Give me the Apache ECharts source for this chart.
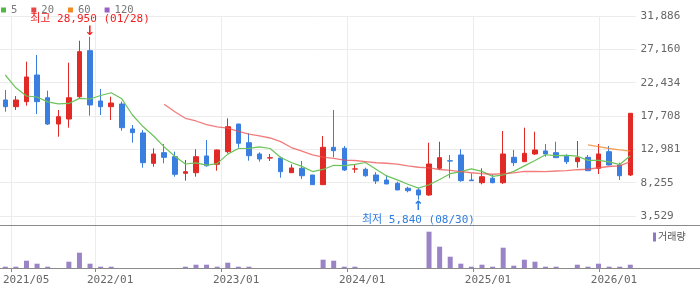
<!DOCTYPE html>
<html><head><meta charset="utf-8">
<script src="https://cdn.jsdelivr.net/npm/echarts@6/dist/echarts.min.js"></script>
<style>html,body{margin:0;padding:0;background:#fff}#c{width:700px;height:289px}</style>
</head><body><div id="c"></div>
<script>
const categories = ['2021/05','2021/06','2021/07','2021/08','2021/09','2021/10','2021/11','2021/12',
'2022/01','2022/02','2022/03','2022/04','2022/05','2022/06','2022/07','2022/08','2022/09','2022/10','2022/11','2022/12',
'2023/01','2023/02','2023/03','2023/04','2023/05','2023/06','2023/07','2023/08','2023/09','2023/10','2023/11','2023/12',
'2024/01','2024/02','2024/03','2024/04','2024/05','2024/06','2024/07','2024/08','2024/09','2024/10','2024/11','2024/12',
'2025/01','2025/02','2025/03','2025/04','2025/05','2025/06','2025/07','2025/08','2025/09','2025/10','2025/11','2025/12',
'2026/01','2026/02','2026/03','2026/04'];
const opens  = [19980,19030,19740,23520,20300,16570,17280,20440,26970,19840,19030,19410,15870,15300,11000,12510,11940,9580,9670,12040,
10860,12650,16570,13920,12320,11750,11750,9670,10290,9340,7970,13270,13130,10180,10150,9340,8630,8170,7460,7220,
6510,10290,11360,12180,8630,8250,8880,8250,11850,11230,12320,12750,12510,12040,11230,11850,10290,12650,10760,9340];
const closes = [19030,19980,23240,19740,16570,17610,20300,26830,19270,19030,19550,16050,15340,11090,12320,11850,9440,9810,11940,10660,
12890,16190,13840,12080,11610,11780,9810,10340,9240,7970,13270,12790,10050,10210,9240,8490,8070,7220,7120,6510,
10900,11800,11320,8540,8540,9100,8250,12320,11090,12420,12890,12320,11800,11230,11800,9950,12320,10760,9240,18090];
const lows   = [18320,18560,19170,17990,16430,14770,16050,20220,17750,17850,17140,15620,13920,10380,10520,11000,9100,8540,9100,10520,
9950,12420,13210,11370,11230,11330,8960,9670,8780,7970,7970,11850,9910,9670,9100,8070,8070,7220,6890,5840,
6370,10050,8880,8390,8490,8020,8170,8070,10620,11230,12180,11940,11800,10900,10380,9950,9480,10700,8630,9200];
const highs  = [21390,20540,25410,26360,21300,18560,25270,28380,28950,21540,20440,19740,16430,15720,13130,13740,12650,11470,12990,14310,
12950,17380,16600,15260,12560,12320,11940,10860,11330,9340,14870,18560,13460,10760,10380,9730,9340,8390,7680,7540,
13920,14060,12180,12990,9580,10290,9340,15580,12890,16050,15480,13740,14060,12280,14160,12180,13740,13460,11090,18090];
const ma5  = [23520,21700,20540,20400,19710,19430,19490,20210,20120,20610,21000,20140,17850,16210,14870,13330,12010,10900,11070,10740,
10950,12300,13100,13130,13320,13100,11820,11120,10560,9830,10130,10720,10660,10860,11110,10160,9210,8650,8030,7480,
7960,8710,9530,9810,10220,9860,9150,9350,9860,10640,11390,12210,12100,12130,12010,11420,11420,11210,10820,12070];
const ma20 = ['-','-','-','-','-','-','-','-','-','-','-','-','-','-','-',19370,18320,17380,17000,16480,
16180,15990,15520,15130,14880,14590,14070,13240,12740,12190,11880,11710,11450,11400,11250,11080,11010,10880,10640,10440,
10340,10120,9990,9810,9660,9530,9450,9550,9640,9860,9840,9820,9910,9960,10090,10160,10370,10550,10650,11230];
const ma60 = ['-','-','-','-','-','-','-','-','-','-','-','-','-','-','-','-','-','-','-','-',
'-','-','-','-','-','-','-','-','-','-','-','-','-','-','-','-','-','-','-','-',
'-','-','-','-','-','-','-','-','-','-','-','-','-','-','-',13600,13380,13100,12890,12720];
const ma120 = [];
const volumes = [130,130,730,430,130,0,630,1530,430,130,130,0,0,0,0,0,0,130,330,330,
130,530,130,130,0,0,0,0,0,0,830,730,130,130,0,0,0,0,0,0,
3630,2130,1130,430,130,330,130,2030,230,830,630,130,130,0,330,130,430,130,130,330];
const priceTicks = [3529,8255.17,12981.33,17707.5,22433.67,27159.83,31886];
const maNames = ['5','20','60','120'];
const highNote = '최고 28,950 (01/28)';
const lowNote = '최저 5,840 (08/30)';

const FONT = "'DejaVu Sans Mono','Noto Sans CJK KR',monospace";
const UP = '#e12a26', DOWN = '#3a7ee0';
const yearPick = (i, v) => i === 0 || String(v).endsWith('/01');
const kdata = categories.map((c, i) => [opens[i], closes[i], lows[i], highs[i]]);

const chart = echarts.init(document.getElementById('c'), null, {renderer: 'canvas'});
chart.setOption({
  animation: false,
  backgroundColor: '#fff',
  textStyle: {fontFamily: FONT},
  legend: [{
    data: [
      {name: '5', itemStyle: {color: '#52b845'}},
      {name: '20', itemStyle: {color: '#e84646'}},
      {name: '60', itemStyle: {color: '#f08a24'}},
      {name: '120', itemStyle: {color: '#9a60c8'}}],
    left: 1, top: 4, padding: 0, icon: 'rect', itemWidth: 5, itemHeight: 5, itemGap: 14,
    selectedMode: false, textStyle: {color: '#777', fontSize: 10.5, fontFamily: FONT, lineHeight: 12}
  }, {
    data: [{name: '거래량', itemStyle: {color: '#8e79c0'}}],
    left: 653, top: 232, padding: 0, icon: 'rect', itemWidth: 3, itemHeight: 9,
    selectedMode: false, textStyle: {color: '#555', fontSize: 10, fontFamily: FONT, padding: [0,0,0,-3]}
  }],
  grid: [
    {left: 0, top: 16, width: 635.6, height: 200},
    {left: 0, top: 226, width: 635.6, height: 42},
    {left: 5.3, top: 16, width: 625, height: 252}
  ],
  xAxis: [
    {type: 'category', gridIndex: 0, data: categories, boundaryGap: true, show: false},
    {type: 'category', gridIndex: 1, data: categories, boundaryGap: true, show: false},
    {type: 'category', gridIndex: 2, data: categories, boundaryGap: false,
      axisLine: {show: false},
      axisTick: {show: true, interval: yearPick, length: 4, lineStyle: {color: '#888'}},
      axisLabel: {show: true, interval: yearPick, align: 'left', padding: [0,0,0,-8], margin: 7,
        color: '#666', fontSize: 11, fontFamily: FONT},
      splitLine: {show: true, interval: yearPick, lineStyle: {color: '#ececec', width: 1}}
    }
  ],
  yAxis: [
    {type: 'value', gridIndex: 0, position: 'right', min: 3529, max: 31886,
      axisLine: {show: false}, axisTick: {show: false, customValues: priceTicks},
      axisLabel: {customValues: priceTicks, margin: 5, color: '#666', fontSize: 11, fontFamily: FONT,
        formatter: v => Math.round(v).toLocaleString('en-US')},
      splitLine: {show: true, lineStyle: {color: '#ececec'}}
    },
    {type: 'value', gridIndex: 1, min: 0, max: 4200, show: false, splitLine: {show: false}},
    {type: 'value', gridIndex: 2, show: false, splitLine: {show: false}}
  ],
  graphic: [
    {type: 'line', shape: {x1: 0, y1: 225.5, x2: 700, y2: 225.5}, style: {stroke: '#8a8a8a', lineWidth: 1}, z: 50},
    {type: 'line', shape: {x1: 0, y1: 268.5, x2: 700, y2: 268.5}, style: {stroke: '#8a8a8a', lineWidth: 1}, z: 50}
  ],
  series: [
    {type: 'candlestick', name: 'K', xAxisIndex: 0, yAxisIndex: 0, data: kdata, barWidth: 5,
      itemStyle: {color: UP, color0: DOWN, borderColor: UP, borderColor0: DOWN, borderWidth: 1},
      markPoint: {
        symbol: 'circle', symbolSize: 0,
        data: [
          {coord: [categories[8], 28950], label: {show: true, position: 'top', distance: -1,
            formatter: '{t|' + highNote + '}\n{a|↓}', color: '#f02020',
            rich: {t: {fontSize: 11, lineHeight: 14, fontFamily: FONT, color: '#f02020'},
                   a: {fontSize: 13, lineHeight: 12, fontFamily: "'DejaVu Sans'", color: '#f02020', fontWeight: 'bold'}}}},
          {coord: [categories[39], 5840], label: {show: true, position: 'bottom', distance: 1,
            formatter: '{a|↑}\n{t|' + lowNote + '}', color: '#2f7de0',
            rich: {t: {fontSize: 11, lineHeight: 14, fontFamily: FONT, color: '#2f7de0'},
                   a: {fontSize: 13, lineHeight: 12, fontFamily: "'DejaVu Sans'", color: '#2f7de0', fontWeight: 'bold'}}}}
        ]
      }
    },
    {type: 'line', name: maNames[0], xAxisIndex: 0, yAxisIndex: 0, data: ma5, symbol: 'none',
      itemStyle: {color: '#52b845'}, lineStyle: {color: '#6cc35a', width: 1.2}},
    {type: 'line', name: maNames[1], xAxisIndex: 0, yAxisIndex: 0, data: ma20, symbol: 'none',
      itemStyle: {color: '#e84646'}, lineStyle: {color: 'rgba(238,80,80,0.75)', width: 1.3}},
    {type: 'line', name: maNames[2], xAxisIndex: 0, yAxisIndex: 0, data: ma60, symbol: 'none',
      itemStyle: {color: '#f08a24'}, lineStyle: {color: 'rgba(242,140,50,0.8)', width: 1.3}},
    {type: 'line', name: maNames[3], xAxisIndex: 0, yAxisIndex: 0, data: ma120, symbol: 'none',
      itemStyle: {color: '#9a60c8'}, lineStyle: {color: '#9a60c8', width: 1.2}},
    {type: 'bar', name: '거래량', xAxisIndex: 1, yAxisIndex: 1, data: volumes, barWidth: 5,
      itemStyle: {color: '#9b84c6'}}
  ]
});
</script></body></html>
